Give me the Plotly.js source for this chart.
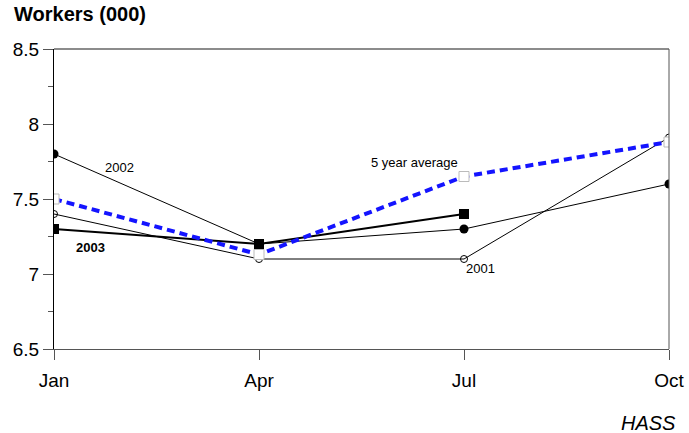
<!DOCTYPE html>
<html>
<head>
<meta charset="utf-8">
<script src="https://cdn.plot.ly/plotly-3.0.1.min.js"></script>
<style>html,body{margin:0;padding:0;background:#fff}#chart{width:689px;height:433px}</style>
</head>
<body>
<div id="chart"></div>
<script>
const months = ["Jan", "Apr", "Jul", "Oct"];
const y2001 = [7.4, 7.1, 7.1, 7.91];
const y2002 = [7.8, 7.2, 7.3, 7.6];
const y2003 = [7.3, 7.2, 7.4];
const avg5 = [7.5, 7.13, 7.65, 7.88];
const yTicks = [6.5, 7, 7.5, 8, 8.5];
const yTickText = ["6.5", "7", "7.5", "8", "8.5"];

const FONT = "Liberation Sans, Arial, sans-serif";

const traces = [
  {x: months, y: y2001, mode: "lines+markers", name: "2001",
   line: {color: "#000", width: 1},
   marker: {symbol: "circle-open", size: 7, color: "#000", line: {width: 1}}},
  {x: months, y: y2002, mode: "lines+markers", name: "2002",
   line: {color: "#000", width: 1},
   marker: {symbol: "circle", size: 9, color: "#000"}},
  {x: months.slice(0, y2003.length), y: y2003, mode: "lines+markers", name: "2003",
   line: {color: "#000", width: 2},
   marker: {symbol: "square", size: 10, color: "#000"}},
  {x: months, y: avg5, mode: "lines+markers", name: "5 year average",
   line: {color: "#1414ff", width: 4, dash: "8px,5px"},
   marker: {symbol: "square", size: 10, color: "#fff", line: {color: "#bbb", width: 1}}}
];

const layout = {
  width: 689, height: 433,
  margin: {l: 54, r: 20, t: 49, b: 84},
  paper_bgcolor: "#fff", plot_bgcolor: "#fff",
  showlegend: false,
  font: {family: FONT, size: 19, color: "#000"},
  xaxis: {
    type: "category", range: [0, 3],
    showgrid: false, zeroline: false,
    showline: true, linecolor: "#555", linewidth: 1,
    ticks: "outside", ticklen: 10, tickcolor: "#555", tickwidth: 1,
    ticklabelstandoff: 4,
    tickfont: {family: FONT, size: 19, color: "#000"}
  },
  yaxis: {
    range: [6.5, 8.5], tickvals: yTicks, ticktext: yTickText,
    showgrid: false, zeroline: false,
    showline: true, linecolor: "#000", linewidth: 1,
    ticks: "outside", ticklen: 10, tickcolor: "#555", tickwidth: 1,
    minor: {dtick: 0.25, ticks: "outside", ticklen: 5, tickcolor: "#555", showgrid: false},
    tickfont: {family: FONT, size: 19, color: "#000"}
  },
  shapes: [
    {type: "line", xref: "paper", yref: "paper", x0: 0, x1: 1, y0: 1, y1: 1, line: {color: "#666", width: 1.5}},
    {type: "line", xref: "paper", yref: "paper", x0: 1, x1: 1, y0: 0, y1: 1, line: {color: "#555", width: 1}}
  ],
  annotations: [
    {text: "<b>Workers (000)</b>", xref: "paper", yref: "paper", x: -0.068, y: 1.117,
     xanchor: "left", yanchor: "middle", showarrow: false, font: {family: FONT, size: 20, color: "#000"}},
    {text: "2002", x: 0.32, y: 7.713, xref: "x", yref: "y", showarrow: false,
     font: {family: FONT, size: 13, color: "#000"}},
    {text: "<b>2003</b>", x: 0.18, y: 7.18, xref: "x", yref: "y", showarrow: false,
     font: {family: FONT, size: 13, color: "#000"}},
    {text: "5 year average", x: 1.76, y: 7.745, xref: "x", yref: "y", showarrow: false,
     font: {family: FONT, size: 13, color: "#000"}},
    {text: "2001", x: 2.08, y: 7.04, xref: "x", yref: "y", showarrow: false,
     font: {family: FONT, size: 13, color: "#000"}},
    {text: "<i>HASS</i>", xref: "paper", yref: "paper", x: 1.015, y: -0.247,
     xanchor: "right", yanchor: "middle", showarrow: false, font: {family: FONT, size: 20, color: "#000"}}
  ]
};

Plotly.newPlot("chart", traces, layout, {displayModeBar: false, staticPlot: true});
</script>
</body>
</html>
